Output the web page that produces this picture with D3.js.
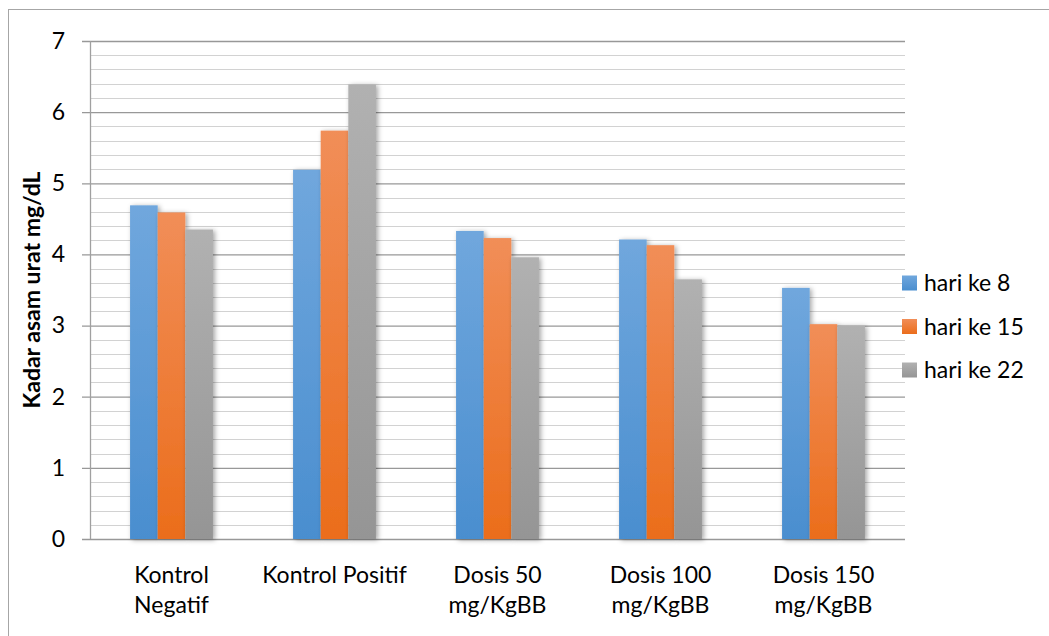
<!DOCTYPE html>
<html>
<head>
<meta charset="utf-8">
<script src="https://cdn.jsdelivr.net/npm/d3@7"></script>
<style>
  body { margin: 0; background: #fff; }
  text { font-family: Lato, "Open Sans", sans-serif; fill: #000; }
</style>
</head>
<body>
<script>
// data
const categories = ['Kontrol Negatif', 'Kontrol Positif', 'Dosis 50 mg/KgBB', 'Dosis 100 mg/KgBB', 'Dosis 150 mg/KgBB'];
const categoryLines = [['Kontrol', 'Negatif'], ['Kontrol Positif'], ['Dosis 50', 'mg/KgBB'], ['Dosis 100', 'mg/KgBB'], ['Dosis 150', 'mg/KgBB']];
const seriesNames = ['hari ke 8', 'hari ke 15', 'hari ke 22'];
const hari8 = [4.69, 5.19, 4.33, 4.21, 3.53];
const hari15 = [4.59, 5.74, 4.23, 4.13, 3.02];
const hari22 = [4.35, 6.39, 3.96, 3.65, 3.00];
const yTicks = [0, 1, 2, 3, 4, 5, 6, 7];
const yTitle = 'Kadar asam urat mg/dL';

// layout
const svgWidth = 1049;
const svgHeight = 636;
const margin = {top: 41, left: 90, right: 144, bottom: 97};
const plotWidth = svgWidth - margin.left - margin.right;
const plotHeight = svgHeight - margin.top - margin.bottom;
const colors = [['#70a7dd', '#4a8ecf'], ['#f18e58', '#eb6d1b'], ['#b1b1b1', '#959595']];
const fontSize = 23;

const series = [hari8, hari15, hari22];

const svg = d3.select('body').append('svg')
  .attr('width', svgWidth)
  .attr('height', svgHeight);

const defs = svg.append('defs');
colors.forEach((c, i) => {
  const g = defs.append('linearGradient')
    .attr('id', 'grad' + i)
    .attr('x1', 0).attr('y1', 0).attr('x2', 0).attr('y2', 1);
  g.append('stop').attr('offset', '0%').attr('stop-color', c[0]);
  g.append('stop').attr('offset', '100%').attr('stop-color', c[1]);
});
const shadow = defs.append('filter').attr('id', 'shadow')
  .attr('x', '-20%').attr('y', '-5%').attr('width', '150%').attr('height', '115%');
shadow.append('feDropShadow')
  .attr('dx', 2).attr('dy', 1).attr('stdDeviation', 2.5)
  .attr('flood-color', '#000').attr('flood-opacity', 0.35);

// outer frame
svg.append('rect')
  .attr('x', 8.5).attr('y', 9.5)
  .attr('width', svgWidth).attr('height', svgHeight)
  .attr('fill', 'none').attr('stroke', '#a6a6a6');

const inner = svg.append('g')
  .attr('transform', 'translate(' + margin.left + ',' + margin.top + ')');

// scales
const xScale = d3.scaleBand()
  .domain(categories)
  .range([0, plotWidth]);

const yScale = d3.scaleLinear()
  .domain([0, 7])
  .range([plotHeight, 0]);

const xInner = d3.scaleBand()
  .domain(seriesNames)
  .range([0, xScale.bandwidth()])
  .paddingOuter(1.45);

// minor gridlines
const minorTicks = d3.range(0, 35).map(d => d / 5).filter(d => d % 1 !== 0);
inner.append('g')
  .selectAll('line')
  .data(minorTicks)
  .enter()
  .append('line')
  .attr('x1', 0).attr('x2', plotWidth)
  .attr('y1', d => Math.round(yScale(d)) + 0.5)
  .attr('y2', d => Math.round(yScale(d)) + 0.5)
  .attr('stroke', '#d2d2d2')
  .attr('stroke-width', 1.2);

// major gridlines + axis
const yAxisLeft = d3.axisLeft(yScale)
  .tickValues(yTicks)
  .tickSize(-plotWidth)
  .tickPadding(25)
  .tickFormat(d3.format('d'));
const yAxisG = inner.append('g')
  .attr('class', 'y-axis')
  .call(yAxisLeft);
yAxisG.select('.domain').remove();
yAxisG.selectAll('.tick line')
  .attr('x1', -8)
  .attr('stroke', '#989898')
  .attr('stroke-width', 1.3);
yAxisG.selectAll('.tick text')
  .attr('font-size', fontSize)
  .attr('font-family', 'Lato, sans-serif');

inner.append('line')
  .attr('x1', 0.5).attr('x2', 0.5)
  .attr('y1', 0).attr('y2', plotHeight)
  .attr('stroke', '#a0a0a0')
  .attr('stroke-width', 1.3);

// bars
const groups = inner.selectAll('g.group')
  .data(categories)
  .enter()
  .append('g')
  .attr('class', 'group')
  .attr('transform', d => 'translate(' + xScale(d) + ',0)');

groups.selectAll('rect')
  .data((d, ci) => series.map((s, si) => ({name: seriesNames[si], value: s[ci], si: si})))
  .enter()
  .append('rect')
  .attr('x', d => xInner(d.name))
  .attr('y', d => yScale(d.value))
  .attr('width', xInner.bandwidth())
  .attr('height', d => plotHeight - yScale(d.value))
  .attr('fill', d => 'url(#grad' + d.si + ')')
  .attr('filter', 'url(#shadow)');

// category labels
const catLabels = inner.selectAll('text.cat')
  .data(categories)
  .enter()
  .append('text')
  .attr('class', 'cat')
  .attr('text-anchor', 'middle')
  .attr('font-size', fontSize)
  .attr('x', d => xScale(d) + xScale.bandwidth() / 2)
  .attr('y', plotHeight + 44);
catLabels.selectAll('tspan')
  .data((d, i) => categoryLines[i])
  .enter()
  .append('tspan')
  .attr('x', function() { return d3.select(this.parentNode).attr('x'); })
  .attr('dy', (d, i) => i === 0 ? 0 : 30)
  .text(d => d);

// y title
svg.append('text')
  .attr('transform', 'translate(40,' + (margin.top + plotHeight / 2) + ') rotate(-90)')
  .attr('text-anchor', 'middle')
  .attr('font-size', 23)
  .attr('font-weight', 'bold')
  .text(yTitle);

// legend
const legend = svg.selectAll('g.legend')
  .data(seriesNames)
  .enter()
  .append('g')
  .attr('class', 'legend')
  .attr('transform', (d, i) => 'translate(902,' + (283 + i * 43.5) + ')');
legend.append('rect')
  .attr('x', 0).attr('y', -7.5)
  .attr('width', 15).attr('height', 15)
  .attr('fill', (d, i) => 'url(#grad' + i + ')');
legend.append('text')
  .attr('x', 22)
  .attr('y', 8)
  .attr('font-size', fontSize)
  .text(d => d);
</script>
</body>
</html>
